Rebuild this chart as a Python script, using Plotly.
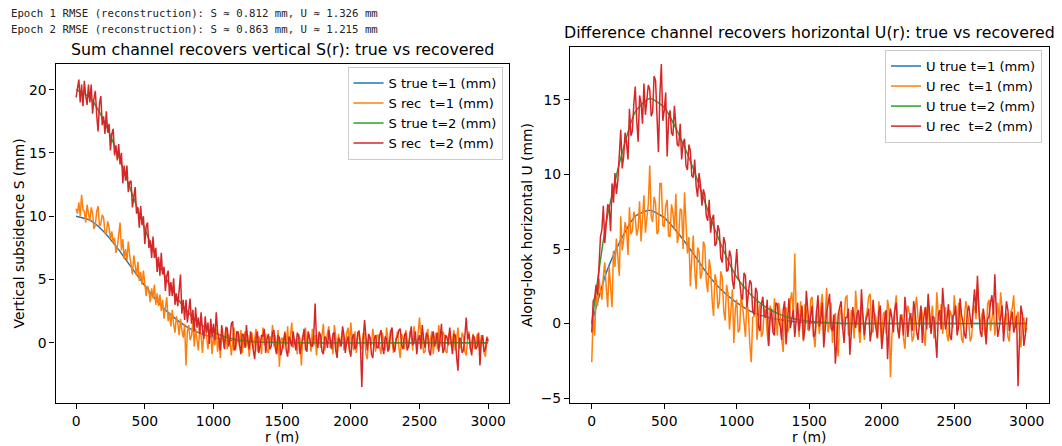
import plotly.graph_objects as go

# ---------------------------------------------------------------- data
# radial distance grids (m)
R_TRUE = list(range(0, 3001, 100))
R_REC = list(range(0, 3001, 10))

# true vertical subsidence S(r), mm
S_true_t1 = [10.0, 9.69, 8.80, 7.50, 6.00, 4.51, 3.17, 2.10, 1.30, 0.76,
             0.41, 0.21, 0.10, 0.05, 0.02, 0.01, 0, 0, 0, 0,
             0, 0, 0, 0, 0, 0, 0, 0, 0, 0, 0]
S_true_t2 = [20.0, 19.37, 17.60, 15.01, 12.01, 9.01, 6.35, 4.19, 2.60, 1.51,
             0.82, 0.42, 0.20, 0.09, 0.04, 0.02, 0, 0, 0, 0,
             0, 0, 0, 0, 0, 0, 0, 0, 0, 0, 0]

# true along-look horizontal U(r), mm
U_true_t1 = [0.0, 3.4, 5.6, 7.2, 7.6, 7.1, 6.0, 4.7, 3.3, 2.2,
             1.4, 0.8, 0.45, 0.25, 0.12, 0.06, 0.03, 0, 0, 0,
             0, 0, 0, 0, 0, 0, 0, 0, 0, 0, 0]
U_true_t2 = [0.0, 6.8, 11.1, 14.2, 15.1, 14.5, 12.7, 10.4, 7.6, 5.1,
             3.1, 1.9, 1.1, 0.6, 0.3, 0.15, 0.07, 0.03, 0, 0,
             0, 0, 0, 0, 0, 0, 0, 0, 0, 0, 0]

# recovered S from the sum channel (10 m samples, one row per 200 m)
S_rec_t1 = [
    10.6, 10.2, 11.1, 10.0, 11.7, 10.5, 10.4, 9.5, 10.9, 10.1, 9.6, 10.7, 10.2, 9.0, 9.3, 10.4, 10.8, 9.2, 9.4, 10.1,
    9.9, 8.7, 8.6, 9.6, 9.1, 8.2, 8.8, 7.9, 8.3, 7.1, 7.6, 8.5, 9.5, 7.3, 8.2, 6.6, 7.4, 6.5, 8.0, 6.9,
    6.3, 5.4, 6.9, 5.8, 5.3, 6.4, 4.9, 5.6, 4.6, 5.7, 4.8, 3.7, 4.5, 4.1, 3.2, 4.3, 3.5, 4.6, 3.0, 3.9,
    2.9, 3.8, 2.5, 3.4, 1.9, 2.8, 3.6, 1.7, 2.4, 1.3, 2.6, 1.5, 0.8, 2.1, 1.6, 0.6, 1.9, 1.0, 0.4, 1.5,
    -1.8, 0.9, 1.4, 0.2, 0.5, 1.7, -0.3, 1.1, 0.3, -0.6, 1.2, 0.5, -0.8, 0.9, 1.4, 0.1, -0.5, 0.7, 1.0, -0.9,
    0.6, -0.2, 1.1, -0.7, 0.4, -1.2, 0.8, 0.2, -0.4, 1.3, -0.5, 0.7, 0.1, -1.0, 0.5, 1.2, -0.6, 0.3, 0.9, -0.3,
    1.0, -0.8, 0.4, 0.9, -0.3, 0.6, -1.1, 0.2, 0.8, -0.5, 0.3, 1.1, -0.7, 0.5, 0.1, -0.9, 1.2, -0.2, 0.7, -0.6,
    -0.8, 0.5, 0.1, 1.4, -0.3, 0.6, -0.9, 1.0, -1.9, 0.2, 0.4, -0.5, 0.9, -0.2, 1.3, -0.8, 0.5, 1.6, -0.4, 0.3,
    0.1, -0.9, 0.7, 0.3, -1.8, 0.6, 0.2, 1.2, -0.5, 0.8, 0.4, -0.7, 1.1, -0.2, 0.6, -1.0, 0.3, 0.9, -0.4, 0.5,
    1.5, -0.6, 0.3, 0.8, 1.3, -0.4, 0.2, -0.9, 1.4, 0.5, -1.0, 0.7, -0.3, 0.4, 1.0, -0.6, -0.2, 0.8, 1.2, -0.5,
    1.6, 0.2, -0.6, 0.9, -0.8, 0.4, 1.0, -0.3, -0.5, 0.7, 0.8, -0.9, -1.3, 0.5, 0.4, -0.2, 1.1, 0.3, -0.7, 0.6,
    0.6, -0.4, -0.9, 0.8, 0.2, -0.6, 1.2, 0.4, -0.6, 1.0, 0.5, -0.8, -0.2, 0.6, 0.9, -0.4, -1.2, 0.7, 0.3, -0.5,
    1.0, 0.2, -0.4, 0.9, 0.7, -0.6, 1.3, 0.3, -0.5, 0.8, 2.0, 0.4, 0.4, -0.8, -0.7, 0.5, 1.1, -0.3, 0.2, 0.9,
    -0.9, 0.4, 0.8, -0.5, 1.4, 0.2, -0.3, 0.9, 0.6, -0.7, -0.8, 0.5, 0.9, -0.2, 0.1, 1.0, -0.6, 0.3, 1.2, -0.4,
    -0.4, 0.8, 0.5, -0.7, -1.0, 0.3, 0.9, -0.5, 0.2, 0.7, -0.5, -0.1, 0.7, 0.4, -0.9, 0.6, 0.3, -0.8, -1.1, 0.5,
    0.2,
]
S_rec_t2 = [
    19.4, 20.3, 20.8, 19.0, 20.4, 18.7, 20.7, 19.5, 18.8, 20.4, 19.0, 20.4, 18.1, 19.3, 19.9, 18.0, 16.7, 18.9, 19.5, 17.2,
    17.9, 16.5, 18.3, 16.6, 17.3, 15.2, 16.5, 16.9, 14.8, 15.6, 14.4, 15.7, 14.1, 15.0, 12.6, 14.0, 12.8, 14.0, 11.9, 12.7,
    12.8, 10.7, 11.7, 12.3, 10.2, 10.7, 9.1, 10.8, 9.3, 10.0, 7.8, 9.2, 9.5, 7.5, 8.1, 6.7, 8.4, 6.7, 7.5, 5.6,
    6.8, 5.3, 7.1, 5.4, 6.0, 4.1, 5.3, 5.7, 3.7, 4.8, 3.7, 5.1, 3.0, 3.9, 2.9, 4.0, 5.4, 2.3, 3.4, 1.8,
    3.4, 1.6, 2.9, 3.5, 1.5, 2.6, 0.9, 2.8, 1.2, 2.0, 0.7, 2.4, 1.0, 0.3, 2.1, 0.8, 1.6, -0.1, 1.9, 0.5,
    1.5, 0.2, 2.4, 0.9, 0.3, -0.6, 1.4, 0.6, -0.5, 1.1, 1.2, -0.3, 0.2, 1.5, 1.7, -0.6, -0.4, 0.9, 0.8, -0.2,
    -0.9, 0.7, 0.6, -0.4, 1.4, 0.2, -0.5, 0.9, 0.3, -0.6, -1.3, 0.4, 0.9, -0.8, -0.2, 0.6, 0.5, 1.1, -0.8, 0.3,
    0.7, -0.5, -0.3, 0.8, 1.0, -0.4, -0.9, 0.6, 0.4, -1.0, -0.5, 0.3, 0.8, -0.6, -1.1, 0.5, 0.2, -0.3, 0.9, 0.1,
    -0.6, 0.8, 0.5, -0.9, -0.2, 0.4, 1.1, -0.5, -0.7, 0.9, 0.4, -0.2, -0.3, 0.6, 3.1, 0.2, -0.4, 0.8, 0.6, -0.7,
    -0.9, 0.5, 0.3, -0.4, 1.0, 0.2, -0.5, 0.7, 0.8, -0.6, -1.2, 0.4, 0.2, -0.3, 1.3, 0.6, -0.8, 0.1, 0.5, -0.6,
    -1.1, 0.4, 0.7, -0.5, -0.3, 0.8, 0.9, -0.2, -3.5, 0.3, 1.8, 0.5, -0.6, 0.7, 0.4, -0.9, -1.2, 0.3, 0.6, -0.4,
    -0.4, 0.6, 1.0, -0.3, -0.9, 0.5, 0.3, -0.7, -0.2, 0.9, 1.2, -0.4, -0.7, 0.3, 0.5, 1.0, 1.1, -0.2, -0.5, 0.6,
    0.8, -0.6, -0.3, 0.5, 1.3, -0.2, 0.1, 0.9, -0.9, 0.2, 0.6, -0.5, 1.4, 0.3, -0.4, 0.8, 0.5, -0.7, -1.0, 0.4,
    0.9, -0.3, 0.2, 0.8, -0.7, 0.5, 1.5, -0.8, -0.5, 0.6, 0.4, -0.2, 1.2, 0.1, -0.9, 0.7, 0.6, -1.1, -2.2, 0.4,
    0.3, -0.8, -0.6, 0.5, 2.0, 0.3, 0.7, -0.4, -1.0, 0.6, 0.4, -0.5, -0.3, 0.8, -1.8, 0.2, 0.6, -0.7, -0.5, 0.4,
    0.1,
]

# recovered U from the difference channel (10 m samples, one row per 200 m)
U_rec_t1 = [
    -2.6, 0.6, -0.8, 1.9, 1.2, 3.0, 2.2, 1.6, 3.2, 4.1, 2.4, 1.1, 3.8, 2.0, 1.1, 4.9, 3.8, 5.7, 4.7, 3.2,
    7.2, 4.9, 5.6, 6.8, 6.3, 4.6, 7.8, 6.0, 6.2, 7.5, 7.1, 5.9, 6.4, 8.2, 5.5, 7.3, 8.6, 6.1, 7.0, 8.0,
    10.6, 7.2, 6.8, 8.5, 8.1, 6.0, 6.2, 9.4, 9.4, 6.6, 6.5, 7.9, 8.3, 5.9, 5.8, 8.0, 7.4, 6.3, 8.7, 5.4,
    5.9, 7.7, 7.6, 5.0, 8.8, 6.2, 4.7, 5.8, 2.5, 4.4, 5.9, 3.6, 2.3, 5.1, 4.8, 3.0, 3.4, 5.5, 5.2, 2.8,
    2.1, 4.3, 3.6, 1.6, 0.5, 3.3, 2.8, 1.0, 1.4, 3.5, 3.1, 0.9, 0.2, 2.6, 2.0, -0.4, 0.9, 2.3, -1.3, 1.0,
    1.6, -0.6, -0.4, 1.9, 1.2, 0.1, -0.9, 1.5, 0.7, -1.4, -2.6, 0.4, 0.5, 1.8, -1.1, 0.2, 1.3, -0.9, -0.6, 1.0,
    0.8, -0.7, -1.5, 1.2, 0.4, -0.5, 1.7, 0.6, -0.8, 1.4, 0.6, -1.0, -1.9, 0.8, 1.1, -0.6, -0.3, 1.6, 2.1, 0.3,
    4.7, 0.8, 0.3, -0.9, 1.5, 0.6, -1.2, 1.3, 0.9, -0.4, -0.5, 1.6, 1.8, -0.8, -1.6, 0.9, 0.4, -0.7, 1.2, 2.0,
    -0.9, 0.5, 2.4, -0.6, 0.1, 1.4, -1.3, 0.2, 0.7, -0.9, -2.2, 0.6, 1.0, -0.4, 0.3, 1.7, 1.9, -0.8, -0.7, 0.9,
    0.6, -1.0, 2.2, 0.8, -0.4, -1.3, 1.3, 0.5, -1.1, 0.4, 0.9, 1.8, 2.0, -0.5, -0.6, 0.7, 0.4, -0.9, 1.5, 0.3,
    -1.4, 0.6, 0.8, -0.7, 1.6, 0.9, -3.6, -0.8, 0.2, 1.1, 1.9, -0.4, -0.8, 0.5, 0.6, -1.0, -1.7, 0.3, 1.2, 0.7,
    0.3, -1.2, -0.9, 1.0, 1.8, 0.4, -0.2, 1.1, 0.7, -0.6, -1.5, 0.9, 1.4, -0.3, 0.4, 1.2, -1.0, -0.5, 2.1, 0.6,
    0.2, 1.3, -0.7, 0.5, 1.1, -0.8, -1.2, 0.9, 0.6, -0.3, 1.9, 0.7, -0.5, 1.4, 0.8, -1.0, -1.3, 0.4, 1.5, 0.9,
    0.1, -1.2, -0.9, 0.8, 1.2, 0.3, 2.7, 1.0, -0.4, 0.6, 0.9, -0.7, -1.1, 1.3, 1.6, -0.5, 0.3, 1.1, -0.8, 0.5,
    1.4, 0.2, 2.1, 0.9, -0.6, 0.4, 0.7, -0.9, -1.2, 0.8, 1.0, 1.9, -0.3, 0.5, 0.8, -0.7, -1.6, 0.2, 0.4, -0.6,
    -0.3,
]
U_rec_t2 = [
    -0.6, 1.5, 1.7, 2.6, 1.9, 4.4, 5.8, 6.3, 7.9, 5.4, 6.5, 8.0, 7.8, 6.2, 9.4, 8.1, 10.1, 8.7, 9.6, 11.3,
    13.0, 10.4, 11.2, 12.8, 12.1, 11.0, 14.4, 12.6, 12.9, 14.7, 15.9, 13.6, 12.2, 15.3, 14.8, 13.4, 16.1, 14.0, 14.9, 16.0,
    15.7, 13.9, 14.2, 16.6, 16.3, 14.1, 11.5, 15.4, 17.4, 13.6, 14.3, 15.5, 11.2, 13.7, 14.3, 12.8, 12.6, 14.6, 13.5, 12.0,
    11.9, 13.4, 11.0, 12.1, 12.4, 10.6, 10.3, 12.0, 11.6, 9.9, 9.8, 11.0, 9.2, 8.5, 10.1, 9.3, 7.9, 9.0, 8.6, 7.2,
    6.9, 8.3, 6.1, 7.0, 7.3, 5.2, 5.4, 6.6, 6.2, 4.4, 4.1, 5.8, 5.4, 3.5, 3.6, 4.9, 4.5, 2.9, 2.3, 3.8,
    5.0, 3.1, 2.8, 1.9, 1.6, 3.4, 3.2, 1.1, 1.9, 2.9, 2.7, 0.8, 0.6, 2.4, 2.1, -0.2, -0.5, 1.3, 1.8, 0.5,
    0.4, 1.6, -1.5, 0.3, 1.0, -0.6, -0.8, 1.4, 1.3, 0.2, -0.2, -1.1, 0.9, 1.5, -1.4, 0.6, 1.7, -0.3, 0.2, 0.9,
    -0.9, 0.6, 1.4, -0.5, 0.5, 1.2, -1.1, -0.4, 2.2, 0.8, -0.4, 0.5, 1.2, -0.9, -0.7, 0.7, 1.9, -0.2, 0.3, 1.4,
    -1.6, -0.4, 0.8, 1.3, 2.0, -0.3, -0.5, 0.6, -2.7, -1.2, 0.6, 1.1, 1.5, -0.2, -1.3, 0.4, 0.4, 1.0, -2.1, -0.6,
    1.1, 0.3, -0.3, 0.7, 0.9, -0.6, 2.3, 0.5, -0.8, 0.2, 0.5, 1.0, -1.2, -0.5, 1.6, 0.4, -0.4, -1.0, 0.8, 1.2,
    -1.7, -0.6, 0.3, 0.9, -2.4, -0.2, 1.0, 0.4, -0.6, 0.9, 1.4, -0.3, -1.0, 0.6, 0.2, -0.8, 1.8, 0.7, -0.9, 0.3,
    0.7, -0.5, 1.5, 0.8, -0.5, -1.1, 0.3, 1.2, -1.3, 0.4, 1.1, -0.4, 2.0, 0.9, -0.7, 0.5, 0.4, -0.9, -2.3, 0.6,
    0.9, -0.4, 2.4, 1.0, -0.4, 0.3, 1.3, -0.8, -1.1, 0.5, 0.6, 1.2, -0.8, -0.2, 1.7, 0.6, 0.1, -0.7, -1.0, 0.8,
    1.2, 0.4, -0.3, 1.1, 2.3, 0.7, 3.2, 0.9, -0.6, -0.9, 1.0, 0.2, -1.4, 0.3, 0.5, 1.4, 1.9, 0.6, 3.3, 0.8,
    -0.9, -0.3, 0.7, 1.2, -1.2, 0.4, 1.5, 0.9, -0.5, 0.3, 0.8, -0.6, -0.2, 0.5, -4.2, -1.0, 1.2, 0.6, -1.5, -0.8,
    0.4,
]

RMSE_LINES = [
    "Epoch 1 RMSE (reconstruction): S \u2248 0.812 mm, U \u2248 1.326 mm",
    "Epoch 2 RMSE (reconstruction): S \u2248 0.863 mm, U \u2248 1.215 mm",
]
X_TICKS = [0, 500, 1000, 1500, 2000, 2500, 3000]
S_TICKS = [0, 5, 10, 15, 20]
U_TICKS = [-5, 0, 5, 10, 15]

# ---------------------------------------------------------------- layout helpers
W, H = 1062, 446
BLUE, ORANGE, GREEN, RED = "#1f77b4", "#ff7f0e", "#2ca02c", "#d62728"
FONT = "DejaVu Sans"
FS = 13.9
LEG_FS = 13.1
TITLE_FS = 15.8


def fx(p):
    return p / W


def fy(p):
    return 1 - p / H


L_AX = dict(x0=55.5, x1=508.8, y0=64, y1=403)
R_AX = dict(x0=570.0, x1=1048.5, y0=47, y1=403)

fig = go.Figure()


def add_line(x, y, name, color, legend, xa, ya, smooth=False):
    line = dict(color=color, width=1.5)
    if smooth:
        line.update(shape="spline", smoothing=0.6)
    fig.add_trace(go.Scatter(x=x[:len(y)], y=y, mode="lines", name=name,
                             line=line, legend=legend, xaxis=xa, yaxis=ya,
                             showlegend=True))


NB = "\u00a0"
add_line(R_TRUE, S_true_t1, "S true t=1 (mm)", BLUE, "legend", "x", "y", True)
add_line(R_REC, S_rec_t1, f"S rec {NB}t=1 (mm)", ORANGE, "legend", "x", "y")
add_line(R_TRUE, S_true_t2, "S true t=2 (mm)", GREEN, "legend", "x", "y", True)
add_line(R_REC, S_rec_t2, f"S rec {NB}t=2 (mm)", RED, "legend", "x", "y")

add_line(R_TRUE, U_true_t1, "U true t=1 (mm)", BLUE, "legend2", "x2", "y2", True)
add_line(R_REC, U_rec_t1, f"U rec {NB}t=1 (mm)", ORANGE, "legend2", "x2", "y2")
add_line(R_TRUE, U_true_t2, "U true t=2 (mm)", GREEN, "legend2", "x2", "y2", True)
add_line(R_REC, U_rec_t2, f"U rec {NB}t=2 (mm)", RED, "legend2", "x2", "y2")

axis_common = dict(
    showline=True, linecolor="black", linewidth=1.1, mirror=True,
    ticks="outside", ticklen=5, tickwidth=1.1, tickcolor="black",
    showgrid=False, zeroline=False, automargin=False,
    tickfont=dict(family=FONT, size=FS, color="black"),
)

legend_common = dict(
    xanchor="right", yanchor="top",
    bgcolor="rgba(255,255,255,0.8)", bordercolor="#cccccc", borderwidth=1,
    font=dict(family=FONT, size=LEG_FS, color="black"),
    tracegroupgap=0, itemwidth=30,
)

annotations = []
for i, txt in enumerate(RMSE_LINES):
    annotations.append(dict(
        text=txt, xref="paper", yref="paper", x=fx(9), y=fy(14 + 15.5 * i),
        xanchor="left", yanchor="middle", showarrow=False,
        font=dict(family="DejaVu Sans Mono", size=10.7, color="#222222")))

annotations += [
    dict(text="Sum channel recovers vertical S(r): true vs recovered",
         x=fx((L_AX["x0"] + L_AX["x1"]) / 2), y=fy(50)),
    dict(text="Difference channel recovers horizontal U(r): true vs recovered",
         x=fx((R_AX["x0"] + R_AX["x1"]) / 2), y=fy(33)),
]
for a in annotations[-2:]:
    a.update(xref="paper", yref="paper", xanchor="center", yanchor="middle",
             showarrow=False, font=dict(family=FONT, size=TITLE_FS, color="black"))

for ax, label, xc in ((L_AX, "Vertical subsidence S (mm)", 18),
                      (R_AX, "Along-look horizontal U (mm)", 527)):
    annotations.append(dict(
        text="r (m)", xref="paper", yref="paper",
        x=fx((ax["x0"] + ax["x1"]) / 2), y=fy(437),
        xanchor="center", yanchor="middle", showarrow=False,
        font=dict(family=FONT, size=FS, color="black")))
    annotations.append(dict(
        text=label, xref="paper", yref="paper", textangle=-90,
        x=fx(xc), y=fy((ax["y0"] + ax["y1"]) / 2),
        xanchor="center", yanchor="middle", showarrow=False,
        font=dict(family=FONT, size=FS, color="black")))

fig.update_layout(
    width=W, height=H, template=None,
    margin=dict(l=0, r=0, t=0, b=0, pad=0),
    paper_bgcolor="white", plot_bgcolor="white",
    font=dict(family=FONT, size=FS, color="black"),
    xaxis=dict(domain=[fx(L_AX["x0"]), fx(L_AX["x1"])], anchor="y",
               range=[-150, 3150], tickvals=X_TICKS, **axis_common),
    yaxis=dict(domain=[fy(L_AX["y1"]), fy(L_AX["y0"])], anchor="x",
               range=[-4.76, 22.03], tickvals=S_TICKS, **axis_common),
    xaxis2=dict(domain=[fx(R_AX["x0"]), fx(R_AX["x1"])], anchor="y2",
                range=[-150, 3150], tickvals=X_TICKS, **axis_common),
    yaxis2=dict(domain=[fy(R_AX["y1"]), fy(R_AX["y0"])], anchor="x2",
                range=[-5.33, 18.55], tickvals=U_TICKS, **axis_common),
    legend=dict(x=fx(502.5), y=fy(67), **legend_common),
    legend2=dict(x=fx(1042), y=fy(50), **legend_common),
    annotations=annotations,
    showlegend=True,
)

fig.write_html("out.html")
